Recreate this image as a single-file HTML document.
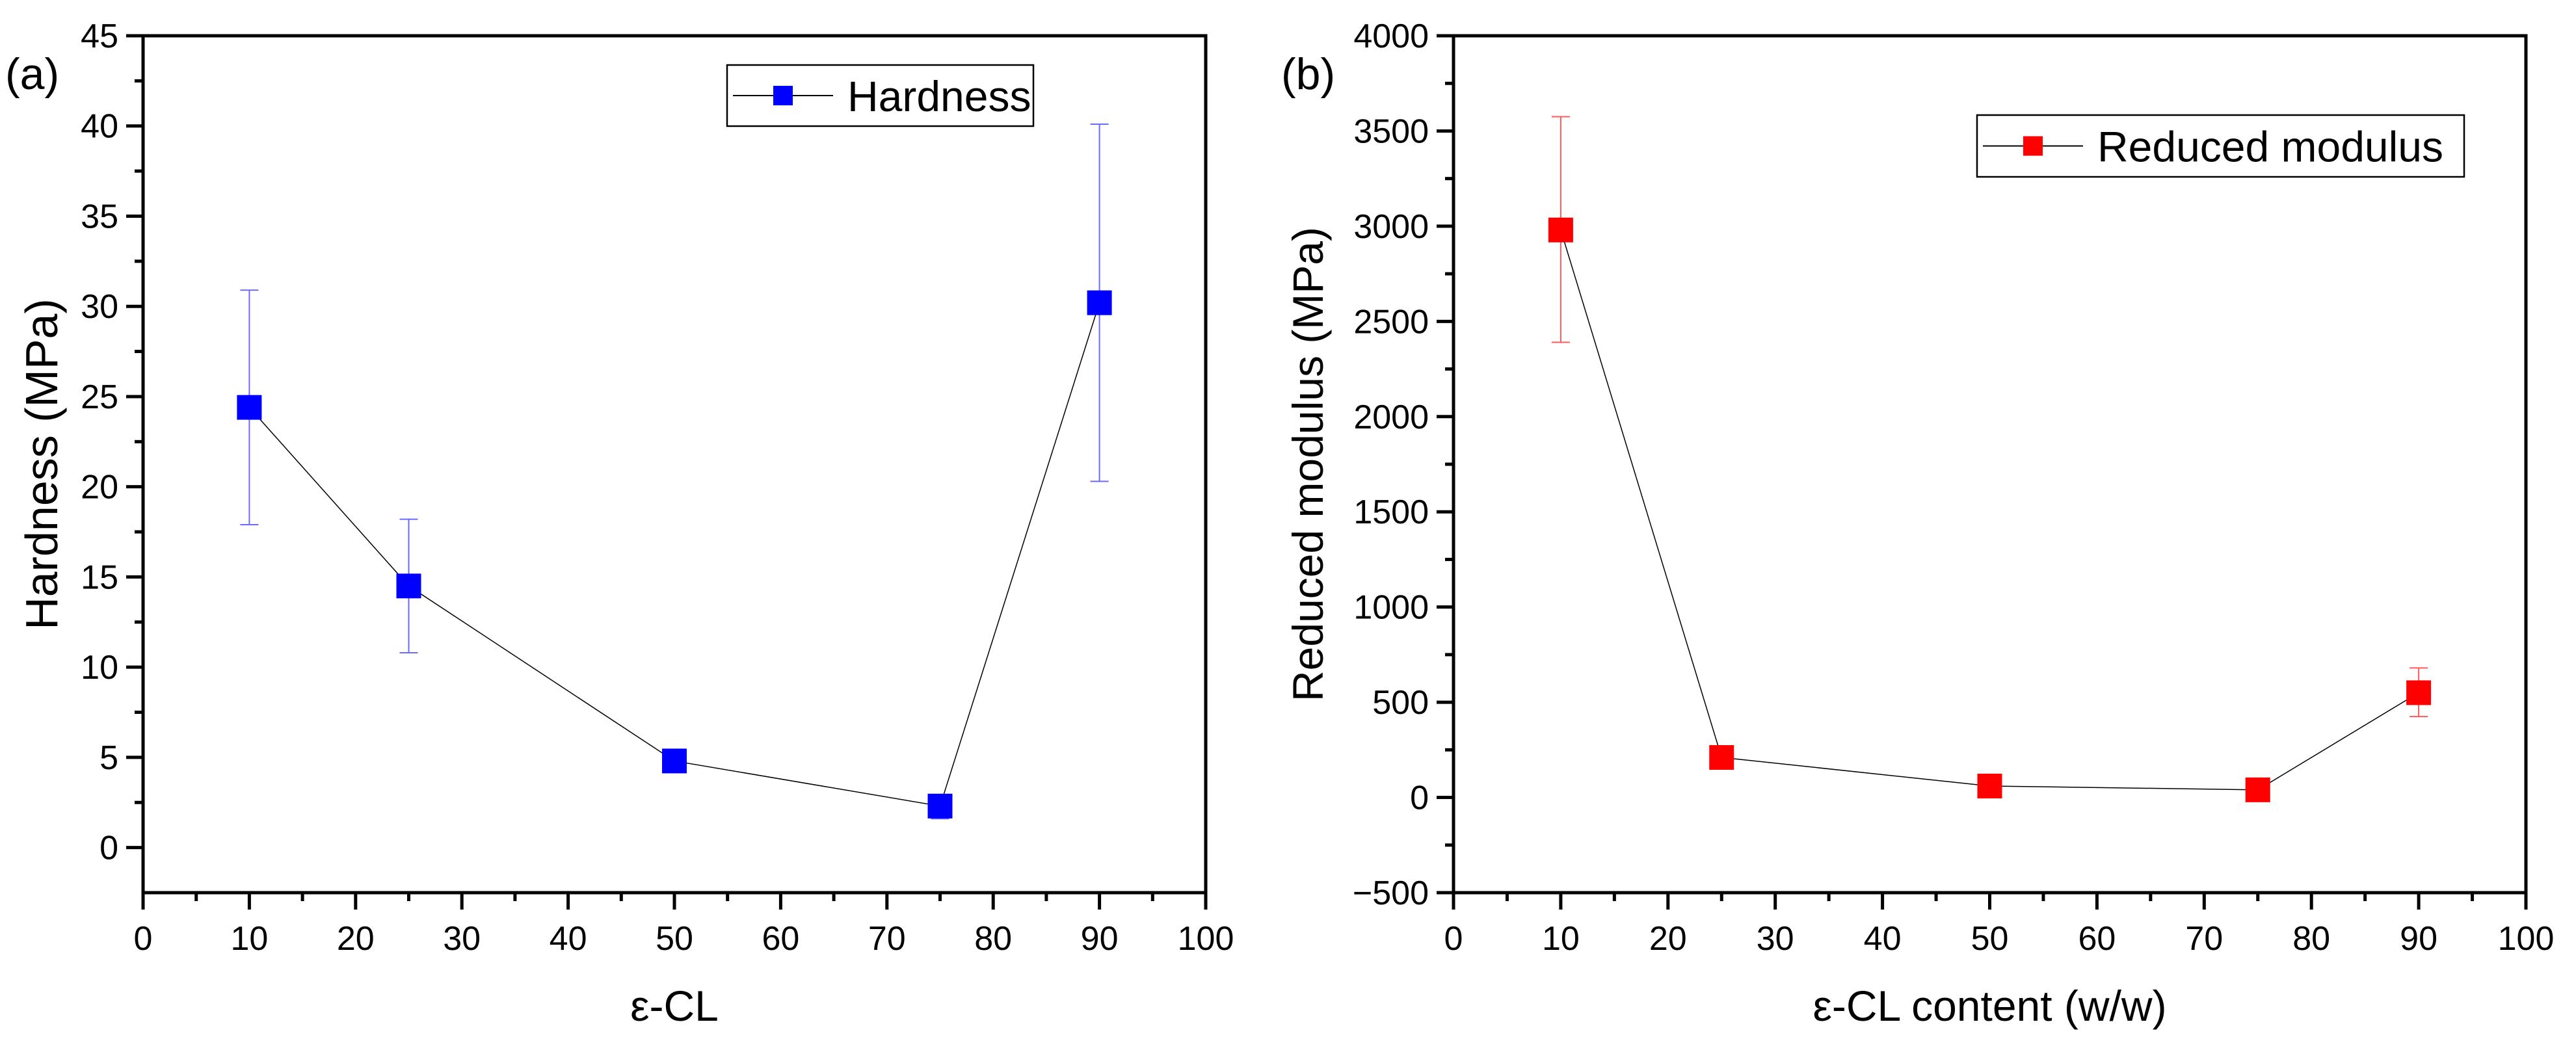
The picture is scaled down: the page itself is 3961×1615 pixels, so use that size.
<!DOCTYPE html>
<html><head><meta charset="utf-8"><style>
html,body{margin:0;padding:0;background:#fff;}
svg{display:block;font-family:"Liberation Sans",Arial,sans-serif;}
</style></head><body>
<svg id="fig" width="3961" height="1615" viewBox="0 0 3961 1615" xmlns="http://www.w3.org/2000/svg"></svg>
<script>
const categories = [10, 25, 50, 75, 90];
const hardness = [24.4, 14.5, 4.8, 2.3, 30.2];
const hardnessErrUp = [30.9, 18.2, 5.0, 2.9, 40.1];
const hardnessErrDown = [17.9, 10.8, 4.6, 1.6, 20.3];
const modulus = [2980, 210, 60, 40, 550];
const modulusErrUp = [3575, 230, 70, 50, 680];
const modulusErrDown = [2390, 190, 50, 30, 425];
const xTicks = [0,10,20,30,40,50,60,70,80,90,100];
const yTicksA = [0,5,10,15,20,25,30,35,40,45];
const yTicksB = [-500,0,500,1000,1500,2000,2500,3000,3500,4000];

const NS = "http://www.w3.org/2000/svg";
const svg = document.getElementById('fig');
function mk(tag, attrs, parent, text){
  const e = document.createElementNS(NS, tag);
  for (const k in attrs) e.setAttribute(k, attrs[k]);
  if (text !== undefined) e.textContent = text;
  (parent||svg).appendChild(e);
  return e;
}

function panel(cfg){
  const g = mk('g', {});
  
  
  const X = v => cfg.x0 + (v - 0) / 100 * (cfg.x1 - cfg.x0);
  const Y = v => cfg.yb + (v - cfg.ymin) / (cfg.ymax - cfg.ymin) * (cfg.yt - cfg.yb);
  const fr = mk('rect', {x:cfg.x0, y:cfg.yt, width:cfg.x1-cfg.x0, height:cfg.yb-cfg.yt, fill:'none', stroke:'#000', 'stroke-width':5}, g);
  
  
  xTicks.forEach(t => {
    mk('line', {x1:X(t), x2:X(t), y1:cfg.yb, y2:cfg.yb+26, stroke:'#000','stroke-width':5}, g);
    const lb = mk('text', {x:X(t), y:cfg.yb+88, 'font-size':52, 'text-anchor':'middle'}, g, String(t));
    
    
    if (t < 100) mk('line', {x1:X(t+5), x2:X(t+5), y1:cfg.yb, y2:cfg.yb+13, stroke:'#000','stroke-width':5}, g);
  });
  cfg.yTicks.forEach((t,i) => {
    mk('line', {x1:cfg.x0-26, x2:cfg.x0, y1:Y(t), y2:Y(t), stroke:'#000','stroke-width':5}, g);
    const lb = mk('text', {x:cfg.x0-38, y:Y(t)+18, 'font-size':52, 'text-anchor':'end'}, g, cfg.fmt(t));
    
    
    if (i < cfg.yTicks.length-1) {
      const m = (t + cfg.yTicks[i+1]) / 2;
      mk('line', {x1:cfg.x0-13, x2:cfg.x0, y1:Y(m), y2:Y(m), stroke:'#000','stroke-width':5}, g);
    }
  });
  const xt = mk('text', {x:(cfg.x0+cfg.x1)/2, y:1570, 'font-size':66, 'text-anchor':'middle'}, g, cfg.xTitle);
  
  
  const yc = (cfg.yt+cfg.yb)/2;
  const yt = mk('text', {x:cfg.yTitleX, y:yc, 'font-size':cfg.yTitleSize, 'text-anchor':'middle', transform:`rotate(-90 ${cfg.yTitleX} ${yc})`}, g, cfg.yTitle);
  
  
  const pl = mk('text', {x:cfg.labelX, y:137, 'font-size':68}, g, cfg.label);
  
  
  categories.forEach((c,i) => {
    const x = X(c);
    const eb = mk('g', {stroke:cfg.errColor, 'stroke-width':2}, g);
    
    
    mk('line', {x1:x, x2:x, y1:Y(cfg.up[i]), y2:Y(cfg.down[i])}, eb);
    mk('line', {x1:x-14, x2:x+14, y1:Y(cfg.up[i]), y2:Y(cfg.up[i])}, eb);
    mk('line', {x1:x-14, x2:x+14, y1:Y(cfg.down[i]), y2:Y(cfg.down[i])}, eb);
  });
  const pts = categories.map((c,i) => X(c)+','+Y(cfg.vals[i])).join(' ');
  const ln = mk('polyline', {points:pts, fill:'none', stroke:'#000', 'stroke-width':1.5}, g);
  
  
  categories.forEach((c,i) => {
    const r = mk('rect', {x:X(c)-19, y:Y(cfg.vals[i])-19, width:38, height:38, fill:cfg.color}, g);
    
    
  });
  const L = cfg.legend;
  const lg = mk('g', {}, g);
  
  
  mk('rect', {x:L.x, y:L.y, width:L.w, height:L.h, fill:'#fff', stroke:'#000','stroke-width':2.5}, lg);
  const cy = L.y + L.h/2;
  mk('line', {x1:L.x+9, x2:L.x+163, y1:cy, y2:cy, stroke:'#000','stroke-width':2}, lg);
  mk('rect', {x:L.x+71, y:cy-15, width:30, height:30, fill:cfg.color}, lg);
  mk('text', {x:L.x+185, y:cy+24, 'font-size':66}, lg, cfg.legendText);
}

panel({name:'hardness-panel', x0:220, x1:1854, yt:55, yb:1373, ymin:-2.5, ymax:45,
  yTicks:yTicksA, fmt:t=>String(t), xTitle:'ε-CL', yTitle:'Hardness (MPa)', yTitleX:88, yTitleSize:70,
  label:'(a)', labelX:8, vals:hardness, up:hardnessErrUp, down:hardnessErrDown,
  color:'#0000ff', errColor:'#6a6aff',
  legend:{x:1118, y:100, w:471, h:94}, legendText:'Hardness'});

panel({name:'modulus-panel', x0:2235, x1:3884, yt:55, yb:1373, ymin:-500, ymax:4000,
  yTicks:yTicksB, fmt:t=>t<0?'\u2212'+Math.abs(t):String(t), xTitle:'ε-CL content (w/w)', yTitle:'Reduced modulus (MPa)', yTitleX:2034, yTitleSize:66,
  label:'(b)', labelX:1970, vals:modulus, up:modulusErrUp, down:modulusErrDown,
  color:'#ff0000', errColor:'#ff5a5a',
  legend:{x:3040, y:177, w:749, h:95}, legendText:'Reduced modulus'});
</script>
</body></html>
